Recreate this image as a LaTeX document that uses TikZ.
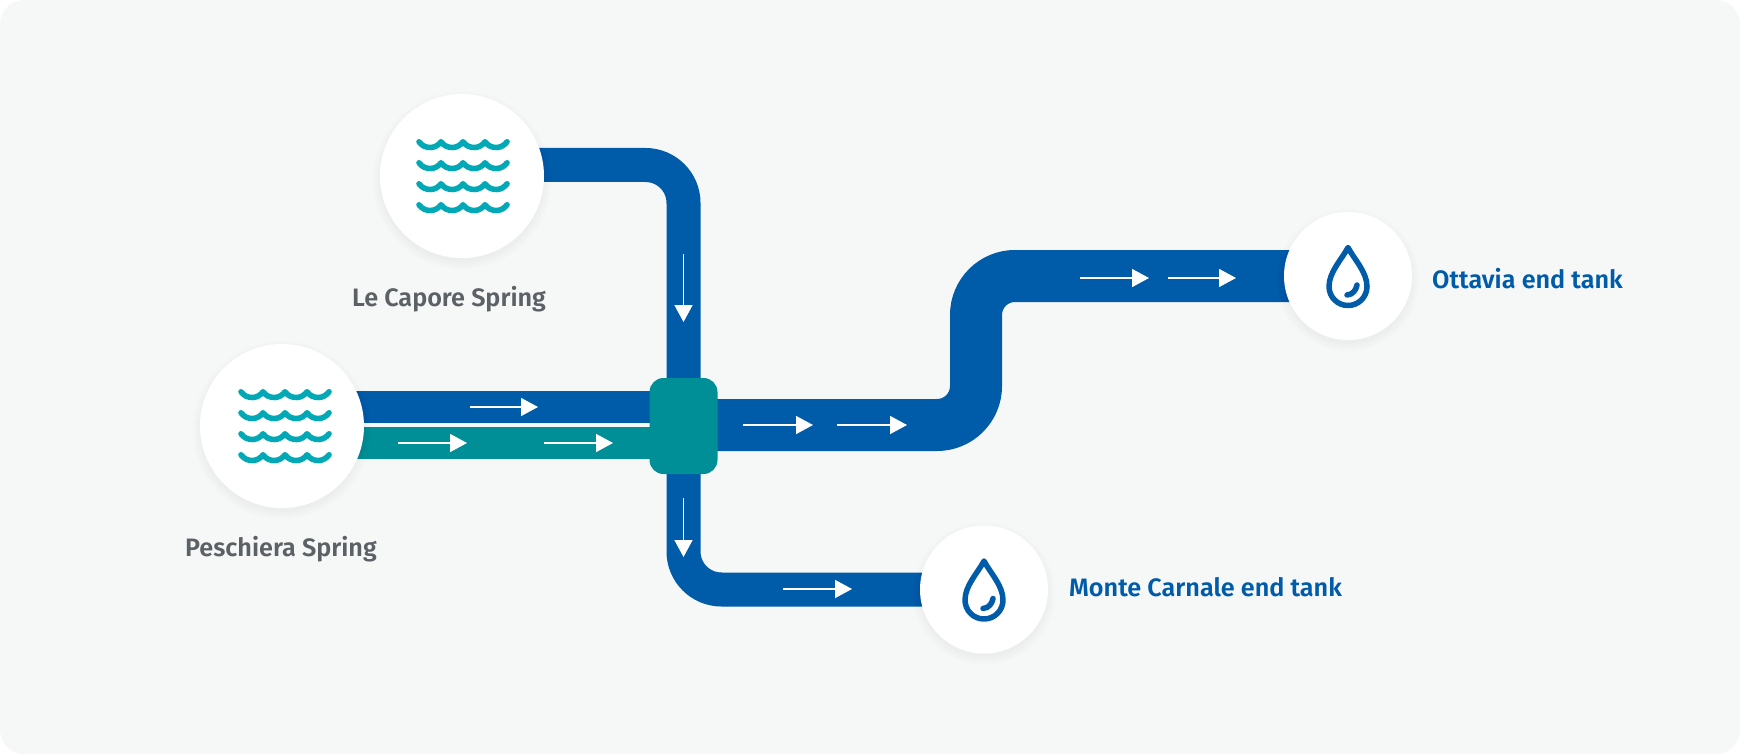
\documentclass[tikz,border=0pt]{standalone}
\usepackage{fontspec}
\usepackage{tikz}
\usetikzlibrary{arrows.meta}
\setmainfont[BoldFont={Fira Sans SemiBold}]{Fira Sans}
\definecolor{pipeblue}{HTML}{005BA9}
\definecolor{pipeteal}{HTML}{008F97}
\definecolor{wavecolor}{HTML}{00A9B5}
\definecolor{panelgrey}{HTML}{F6F8F8}
\definecolor{labelgrey}{HTML}{5C6166}
\pgfdeclarelayer{pipes}
\pgfsetlayers{pipes,main}
\tikzset{
    disc/.style={circle, fill=white, inner sep=0pt, outer sep=0pt},
    junctionbox/.style={rectangle, fill=pipeteal, rounded corners=14pt, minimum width=68pt, minimum height=96pt, inner sep=0pt},
    pipe/.style={draw=pipeblue, line width=34pt},
    flow/.style={draw=white, line width=1.5pt, -{Triangle[length=17pt, width=18pt]}},
    springlabel/.style={font={\fontsize{25.2}{30}\selectfont\bfseries}, labelgrey, inner sep=0pt},
    tanklabel/.style={font={\fontsize{25.2}{30}\selectfont\bfseries}, pipeblue, inner sep=0pt, anchor=west},
    waves/.pic={
        \foreach \row in {0,1,2,3}
            \draw[wavecolor, line width=5.6pt, line cap=round, line join=round] (-44,{-34.2+21*\row})
                arc[start angle=145, end angle=35, radius=13.43]
                arc[start angle=145, end angle=35, radius=13.43]
                arc[start angle=145, end angle=35, radius=13.43]
                arc[start angle=145, end angle=35, radius=13.43];
    },
    waterdrop/.pic={
        \draw[pipeblue, line width=5.5pt, line join=round] (0,-28.5)
            .. controls (-6,-17) and (-19,-4) .. (-19,10.5)
            .. controls (-19,21) and (-10.5,29.5) .. (0,29.5)
            .. controls (10.5,29.5) and (19,21) .. (19,10.5)
            .. controls (19,-4) and (6,-17) .. cycle;
        \draw[pipeblue, line width=5.5pt, line cap=round] (-1,19) .. controls (5,18.5) and (8,14) .. (9,9);
    }
}

\begin{document}
\begin{tikzpicture}[x=1pt, y=-1pt]
    \useasboundingbox (0,0) rectangle (1740,754);

    % stations
    \node[disc, minimum size=164pt] (capore) at (462,176) {};
    \node[disc, minimum size=164pt] (peschiera) at (282,426) {};
    \node[disc, minimum size=128pt] (carnale) at (984,589.5) {};
    \node[disc, minimum size=128pt] (ottavia) at (1348,276) {};
    \node[junctionbox] (junction) at (683.5,426) {};

    % corners of the pipes
    \coordinate (caporeout) at (462,165);
    \coordinate (peschierablue) at (282,407);
    \coordinate (peschierateal) at (282,443);
    \coordinate (junctionout) at (683.5,425);
    \coordinate (bendlow) at (976,425);
    \coordinate (bendtop) at (976,276);

    \begin{pgfonlayer}{pipes}
        \fill[panelgrey] (0,0) [rounded corners=24pt] rectangle (1740,754);
        \draw[pipe, rounded corners=38pt] (caporeout) -| (junction.center);
        \draw[pipe, line width=32pt] (peschierablue) -- (peschierablue -| junction.center);
        \draw[pipe, line width=32pt, draw=pipeteal] (peschierateal) -- (peschierateal -| junction.center);
        \draw[pipe, rounded corners=38pt] (junction.center) |- (carnale.center);
        \draw[pipe, line width=52pt, rounded corners=39pt] (junctionout) -- (bendlow) -- (bendtop) -- (ottavia.center);
        % soft shadow under the discs
        \foreach \station/\rad in {capore/82, peschiera/82, carnale/64, ottavia/64}
            \foreach \grow in {-1,0,...,8}
                \fill[black, opacity=0.005] ([yshift=-4pt]\station.center) circle[radius=\rad+\grow];
    \end{pgfonlayer}

    % icons
    \pic at (463,176) {waves};
    \pic at (285,426) {waves};
    \pic at (carnale.center) {waterdrop};
    \pic at (ottavia.center) {waterdrop};

    % arrows on the pipes
    \foreach \i/\xa/\ya/\xb/\yb in {
        1/683.5/254/683.5/322,
        2/470/407/538/407,
        3/398/443/467/443,
        4/544/443/613/443,
        5/683.5/498/683.5/557,
        6/743/425/813/425,
        7/837/425/907/425,
        8/1080/278/1149/278,
        9/1168/278/1236/278,
        10/783/589/852/589}
    {
        \coordinate (flowstart\i) at (\xa,\ya);
        \coordinate (flowend\i) at (\xb,\yb);
        \draw[flow] (flowstart\i) -- (flowend\i);
    }

    % labels
    \node[springlabel] (caporelabel) at (449,299.5) {Le Capore Spring};
    \node[springlabel] (peschieralabel) at (281,549.5) {Peschiera Spring};
    \node[tanklabel] (carnalelabel) at (1069,587) {Monte Carnale end tank};
    \node[tanklabel] (ottavialabel) at (1432,279) {Ottavia end tank};
\end{tikzpicture}
\end{document}
